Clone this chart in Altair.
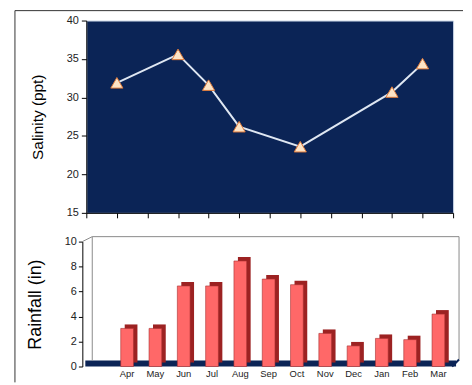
import altair as alt
import pandas as pd

# ---- data ----
sal_months = ["Apr", "Jun", "Jul", "Aug", "Oct", "Feb", "Mar"]
sal_pos = [1, 3, 4, 5, 7, 10, 11]
salinity = [31.9, 35.6, 31.6, 26.2, 23.6, 30.7, 34.4]

rain_months = ["Apr", "May", "Jun", "Jul", "Aug", "Sep", "Oct", "Nov", "Dec", "Jan", "Feb", "Mar"]
rainfall = [3.05, 3.05, 6.45, 6.45, 8.45, 7.0, 6.55, 2.65, 1.65, 2.25, 2.15, 4.2]

sal_ticks = [15, 20, 25, 30, 35, 40]
rain_ticks = [0, 2, 4, 6, 8, 10]

FONT = "Liberation Sans"
NAVY = "#0b2456"

sal_df = pd.DataFrame({"pos": sal_pos, "month": sal_months, "salinity": salinity})
rain_df = pd.DataFrame({"month": rain_months, "rain": rainfall})
one = pd.DataFrame({"a": [0]})

# ---- top chart: salinity ----
x_top = alt.X("pos:Q", scale=alt.Scale(domain=[0, 12], nice=False),
              axis=alt.Axis(values=list(range(13)), labels=False, tickSize=5,
                            title=None, grid=False, domainColor="#000", tickColor="#000"))
y_top = alt.Y("salinity:Q", scale=alt.Scale(domain=[15, 40], nice=False, zero=False),
              axis=alt.Axis(values=sal_ticks, title="Salinity (ppt)", tickSize=5,
                            labelPadding=3, labelFontSize=11, titleFontSize=15.5,
                            titleFontWeight="normal", titlePadding=21, grid=False,
                            domainColor="#000", tickColor="#000", labelColor="#222",
                            titleColor="#000"))

line = alt.Chart(sal_df).mark_line(color="#dfe7f2", strokeWidth=2).encode(x_top, y_top)
pts = alt.Chart(sal_df).mark_point(shape="triangle-up", size=150, filled=True,
                                   fill="#fde4c6", stroke="#e07a3a", strokeWidth=1,
                                   opacity=1).encode(x_top, y_top)

frame_left = alt.Chart(one).mark_rule(color="#333", strokeWidth=1).encode(
    x=alt.value(-72), y=alt.value(-10), y2=alt.value(365))
frame_top = alt.Chart(one).mark_rule(color="#333", strokeWidth=1).encode(
    x=alt.value(-72), x2=alt.value(380), y=alt.value(-10))

top = alt.layer(frame_left, frame_top, line, pts).properties(
    width=370, height=194,
    view=alt.ViewBackground(fill=NAVY, stroke="#c8d4e6", strokeWidth=1))

# ---- bottom chart: rainfall ----
xb = alt.X("month:N", sort=rain_months,
           scale=alt.Scale(paddingInner=0.55, paddingOuter=0.79, align=0.77),
           axis=alt.Axis(title=None, ticks=False, domain=False, labelAngle=0,
                         labelPadding=2, labelFontSize=9.5, labelColor="#222"))
yb = alt.Y("rain:Q", scale=alt.Scale(domain=[0, 10], nice=False),
           axis=alt.Axis(values=rain_ticks, tickSize=4, title="Rainfall (in)", offset=4,
                         titleFontSize=18, titleFontWeight="normal", titlePadding=20,
                         labelFontSize=11, labelPadding=2, grid=False,
                         domainColor="#000", tickColor="#000", labelColor="#222",
                         titleColor="#000"))

WALL = "#8a8a8a"
floor = alt.Chart(one).mark_rect(color=NAVY).encode(
    x=alt.value(-1), x2=alt.value(373), y=alt.value(120), y2=alt.value(126))
wall_top = alt.Chart(one).mark_rule(color=WALL).encode(
    x=alt.value(6), x2=alt.value(376), y=alt.value(-5))
wall_left = alt.Chart(one).mark_rule(color=WALL).encode(
    x=alt.value(6), y=alt.value(-5), y2=alt.value(120))
wall_right = alt.Chart(one).mark_rule(color=WALL).encode(
    x=alt.value(376), y=alt.value(-5), y2=alt.value(119))
diag_tl = alt.Chart(one).mark_rule(color=WALL).encode(
    x=alt.value(-4), x2=alt.value(6), y=alt.value(0), y2=alt.value(-5))
diag_br = alt.Chart(one).mark_rule(color=NAVY, strokeWidth=2).encode(
    x=alt.value(369), x2=alt.value(376), y=alt.value(126), y2=alt.value(119))

side = alt.Chart(rain_df).mark_bar(color="#9c2222", xOffset=4, x2Offset=4,
                                   yOffset=-4, y2Offset=-4).encode(xb, yb)
front = alt.Chart(rain_df).mark_bar(color="#ff6868", stroke="#a83030",
                                    strokeWidth=0.6).encode(xb, yb)

bottom = alt.layer(floor, wall_top, wall_left, wall_right, diag_tl,
                   diag_br, side, front).properties(
    width=372, height=126,
    view=alt.ViewBackground(fill="white", stroke="transparent"))

chart = alt.vconcat(top, bottom, spacing=29, bounds="flush").properties(
    padding={"left": 6, "top": 0, "right": 0, "bottom": 0}
).configure(font=FONT).configure_axis(labelFont=FONT, titleFont=FONT)

chart.save("out.html", embed_options={"renderer": "svg", "actions": False})
